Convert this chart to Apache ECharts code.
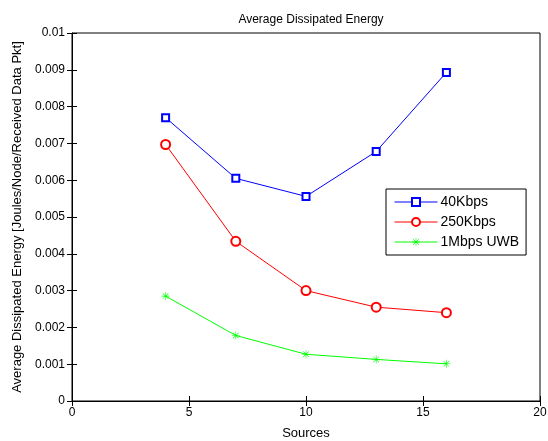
<!DOCTYPE html>
<html><head><meta charset="utf-8">
<script src="https://cdn.jsdelivr.net/npm/echarts@6/dist/echarts.min.js"></script>
<style>html,body{margin:0;padding:0;background:#fff}#c{width:548px;height:441px}</style>
</head><body><div id="c"></div>
<script>
const sources = [4, 7, 10, 13, 16];
const kbps40 = [0.00770, 0.00605, 0.00556, 0.00678, 0.00893];
const kbps250 = [0.00697, 0.00434, 0.00300, 0.00255, 0.00240];
const uwb1M = [0.00285, 0.00178, 0.00127, 0.00113, 0.00101];
const seriesNames = ['40Kbps', '250Kbps', '1Mbps UWB'];

const F = 'Liberation Sans, Arial, sans-serif';
const star = 'path://M9.3,0H10.7V20H9.3Z M0,9.3H20V10.7H0Z M2.5,3.5L3.5,2.5L17.5,16.5L16.5,17.5Z M16.5,2.5L17.5,3.5L3.5,17.5L2.5,16.5Z';
const pairs = a => sources.map((x, i) => [x, a[i]]);

const chart = echarts.init(document.getElementById('c'), null, {renderer: 'canvas'});
const tickCommon = {show: true, inside: true, length: 5, lineStyle: {color: '#000', width: 1}};
chart.setOption({
  animation: false,
  backgroundColor: '#fff',
  title: {text: 'Average Dissipated Energy', left: 306, top: 9, textAlign: 'center',
    textStyle: {fontFamily: F, fontSize: 12, fontWeight: 'normal', color: '#000'}},
  grid: {left: 72, top: 33, right: 8, bottom: 40, show: true, borderColor: '#000', borderWidth: 1,
    containLabel: false, outerBoundsMode: 'none'},
  legend: {
    orient: 'vertical', left: 386, top: 189,
    backgroundColor: '#fff', borderColor: '#000', borderWidth: 1,
    padding: [5, 7, 5, 8], itemGap: 4, itemWidth: 43, itemHeight: 10,
    lineStyle: {width: 1},
    itemStyle: {borderWidth: 1},
    textStyle: {fontFamily: F, fontSize: 14, color: '#000', lineHeight: 16, padding: [0, 0, 0, -2]},
    data: seriesNames
  },
  xAxis: [{
    type: 'value', min: 0, max: 20, interval: 5, name: 'Sources', nameLocation: 'middle', nameGap: 26,
    nameTextStyle: {fontFamily: F, fontSize: 13, color: '#000'},
    axisLine: {show: true, lineStyle: {color: '#000'}}, axisTick: tickCommon,
    axisLabel: {fontFamily: F, fontSize: 12, color: '#000', margin: 6}, splitLine: {show: false}
  }, {
    type: 'value', min: 0, max: 20, interval: 5, position: 'top',
    axisLine: {show: false}, axisTick: tickCommon, axisLabel: {show: false}, splitLine: {show: false}
  }],
  yAxis: [{
    type: 'value', min: 0, max: 0.01, interval: 0.001,
    name: 'Average Dissipated Energy [Joules/Node/Received Data Pkt]', nameLocation: 'middle', nameGap: 48,
    nameTextStyle: {fontFamily: F, fontSize: 13, color: '#000'},
    axisLine: {show: true, lineStyle: {color: '#000'}}, axisTick: tickCommon,
    axisLabel: {fontFamily: F, fontSize: 12, color: '#000', margin: 7,
      formatter: v => String(+v.toFixed(4))}, splitLine: {show: false}
  }, {
    type: 'value', min: 0, max: 0.01, interval: 0.001, position: 'right',
    axisLine: {show: false}, axisTick: tickCommon, axisLabel: {show: false}, splitLine: {show: false}
  }],
  series: [
    {name: seriesNames[0], type: 'line', data: pairs(kbps40), symbol: 'emptyRect', symbolSize: 7,
      color: '#0000ff', lineStyle: {width: 1, color: '#0000ff'}, itemStyle: {color: '#0000ff', borderWidth: 0.8}},
    {name: seriesNames[1], type: 'line', data: pairs(kbps250), symbol: 'emptyCircle', symbolSize: 9,
      color: '#ff0000', lineStyle: {width: 1, color: '#ff0000'}, itemStyle: {color: '#ff0000', borderWidth: 0.8}},
    {name: seriesNames[2], type: 'line', data: pairs(uwb1M), symbol: star, symbolSize: 8,
      color: '#00ff00', lineStyle: {width: 1, color: '#00ff00'}, itemStyle: {color: '#00ff00'}}
  ]
});
</script></body></html>
